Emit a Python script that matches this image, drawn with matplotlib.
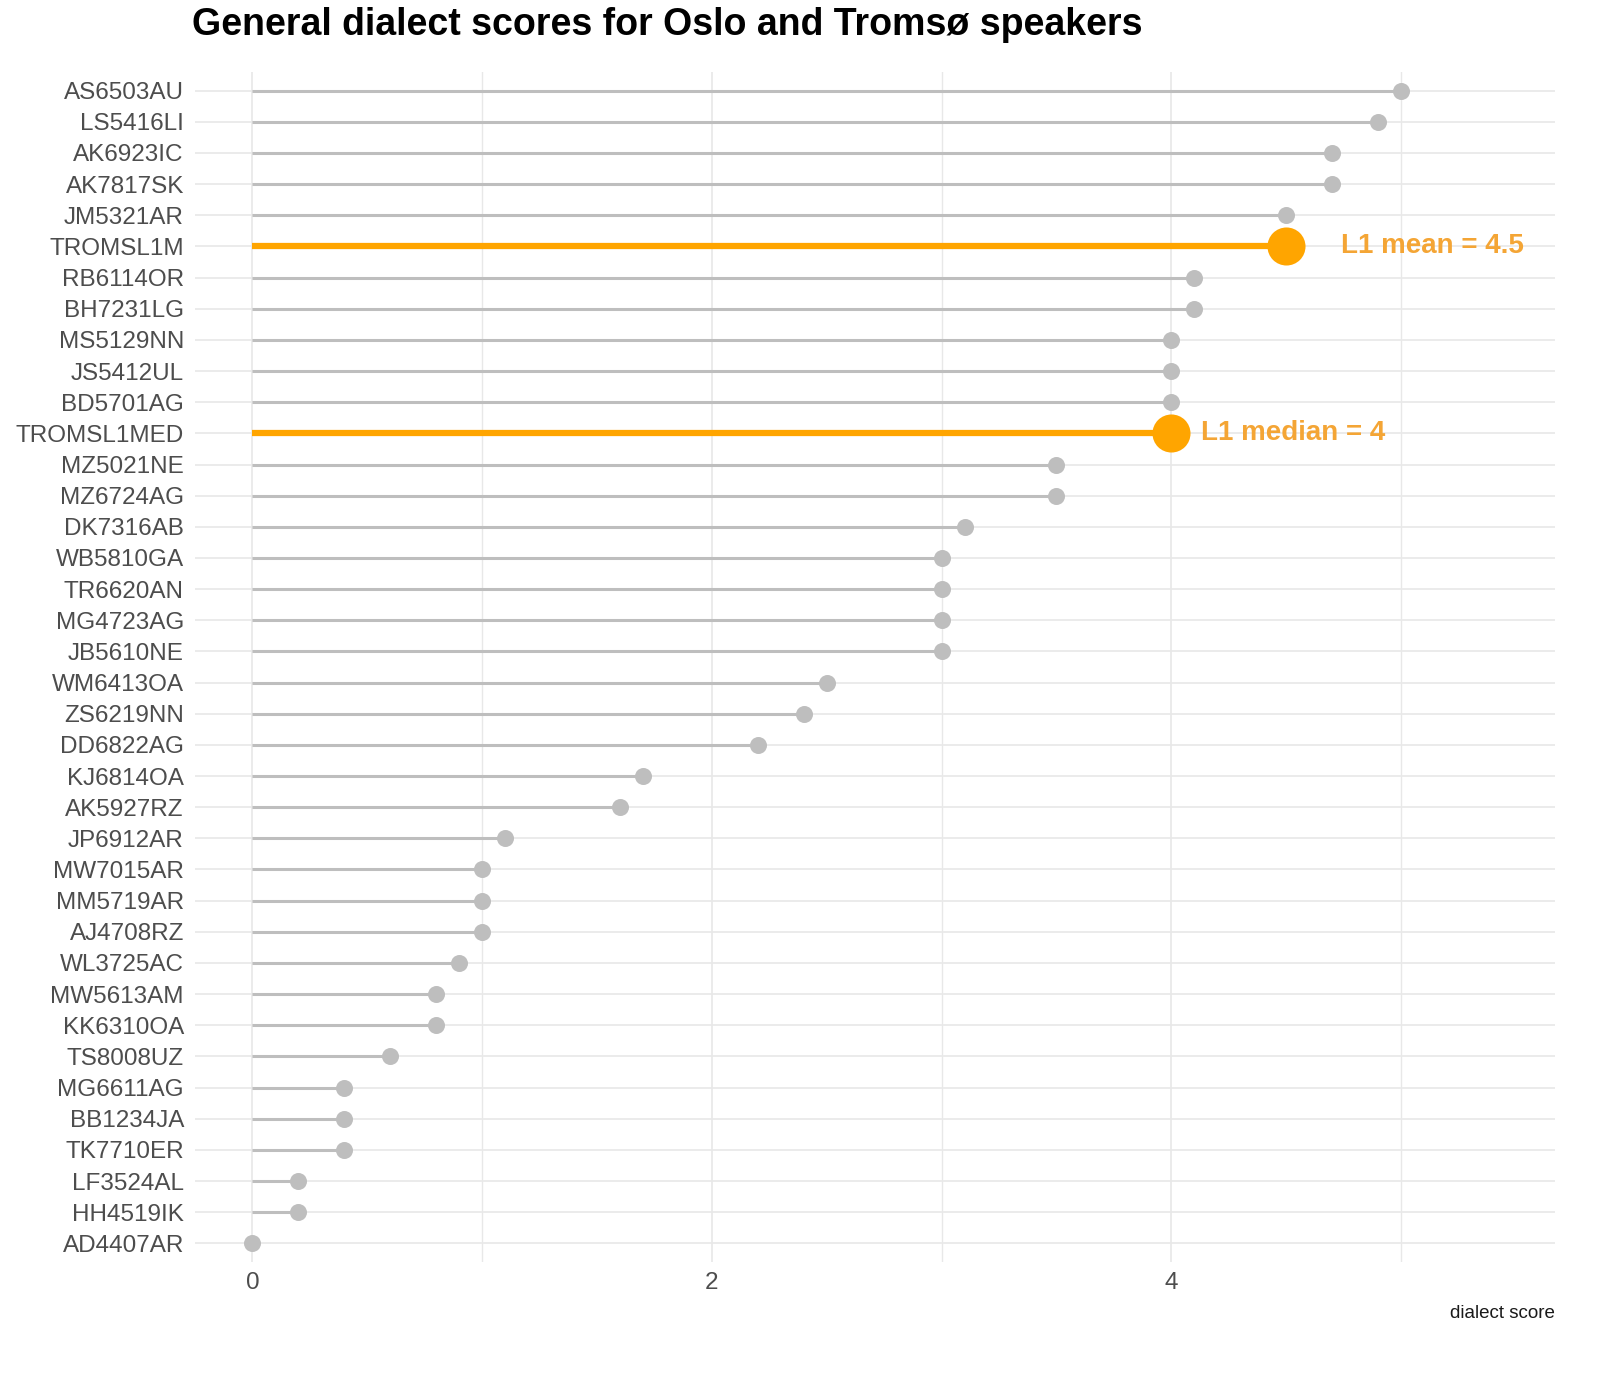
import matplotlib
matplotlib.use("Agg")
import matplotlib.pyplot as plt
from matplotlib import font_manager

# speakers from top to bottom, with their dialect scores
speakers = ["AS6503AU", "LS5416LI", "AK6923IC", "AK7817SK", "JM5321AR", "TROMSL1M",
            "RB6114OR", "BH7231LG", "MS5129NN", "JS5412UL", "BD5701AG", "TROMSL1MED",
            "MZ5021NE", "MZ6724AG", "DK7316AB", "WB5810GA", "TR6620AN", "MG4723AG",
            "JB5610NE", "WM6413OA", "ZS6219NN", "DD6822AG", "KJ6814OA", "AK5927RZ",
            "JP6912AR", "MW7015AR", "MM5719AR", "AJ4708RZ", "WL3725AC", "MW5613AM",
            "KK6310OA", "TS8008UZ", "MG6611AG", "BB1234JA", "TK7710ER", "LF3524AL",
            "HH4519IK", "AD4407AR"]
scores = [5.0, 4.9, 4.7, 4.7, 4.5, 4.5,
          4.1, 4.1, 4.0, 4.0, 4.0, 4.0,
          3.5, 3.5, 3.1, 3.0, 3.0, 3.0,
          3.0, 2.5, 2.4, 2.2, 1.7, 1.6,
          1.1, 1.0, 1.0, 1.0, 0.9, 0.8,
          0.8, 0.6, 0.4, 0.4, 0.4, 0.2,
          0.2, 0.0]
highlight = {"TROMSL1M": "L1 mean = 4.5", "TROMSL1MED": "L1 median = 4"}
label_gap = {"TROMSL1M": 0.24, "TROMSL1MED": 0.13}

names = {f.name for f in font_manager.fontManager.ttflist}
fam = "Liberation Sans Narrow" if "Liberation Sans Narrow" in names else "Liberation Sans"
plt.rcParams["font.family"] = [fam, "DejaVu Sans"]

grey = "#BEBEBE"
orange = "#FFA500"
grid_col = "#E8E8E8"

fig = plt.figure(figsize=(16.17, 13.8), dpi=100)
ax = fig.add_axes([195 / 1617, 1 - 1262 / 1380, (1555 - 195) / 1617, (1262 - 72) / 1380])

n = len(speakers)
ys = [n - 1 - i for i in range(n)]

for y, name, s in zip(ys, speakers, scores):
    if name in highlight:
        ax.plot([0, s], [y, y], color=orange, lw=4.5, solid_capstyle="butt", zorder=3)
        ax.scatter([s], [y], s=750, color=orange, zorder=4, linewidths=0)
        ax.text(s + label_gap[name], y, highlight[name], color="#F4A535",
                fontsize=20, fontweight="bold", va="center", ha="left", zorder=5)
    else:
        ax.plot([0, s], [y, y], color=grey, lw=2.2, solid_capstyle="butt", zorder=3)
        ax.scatter([s], [y], s=150, color=grey, zorder=4, linewidths=0)

ax.set_xlim(-0.25, 5.67)
ax.set_ylim(-0.6, n - 0.4)
ax.set_yticks(ys)
ax.set_yticklabels(speakers)
ax.set_xticks([0, 2, 4])
ax.set_xticks([1, 3, 5], minor=True)

ax.grid(True, which="major", color=grid_col, lw=1.2, zorder=0)
ax.grid(True, which="minor", axis="x", color=grid_col, lw=1.0, zorder=0)
ax.set_axisbelow(True)
for sp in ax.spines.values():
    sp.set_visible(False)
ax.tick_params(axis="both", which="both", length=0, labelsize=17.5, labelcolor="#4D4D4D")
ax.tick_params(axis="y", pad=8)
ax.tick_params(axis="x", pad=7)

ax.set_xlabel("dialect score", fontsize=13.5, color="#1A1A1A", loc="right", labelpad=8)
fig.text(192 / 1617, 1 - 25 / 1380, "General dialect scores for Oslo and Tromsø speakers",
         fontsize=27, fontweight="bold", va="center", ha="left", color="black")

fig.savefig("out.png", dpi=100)
